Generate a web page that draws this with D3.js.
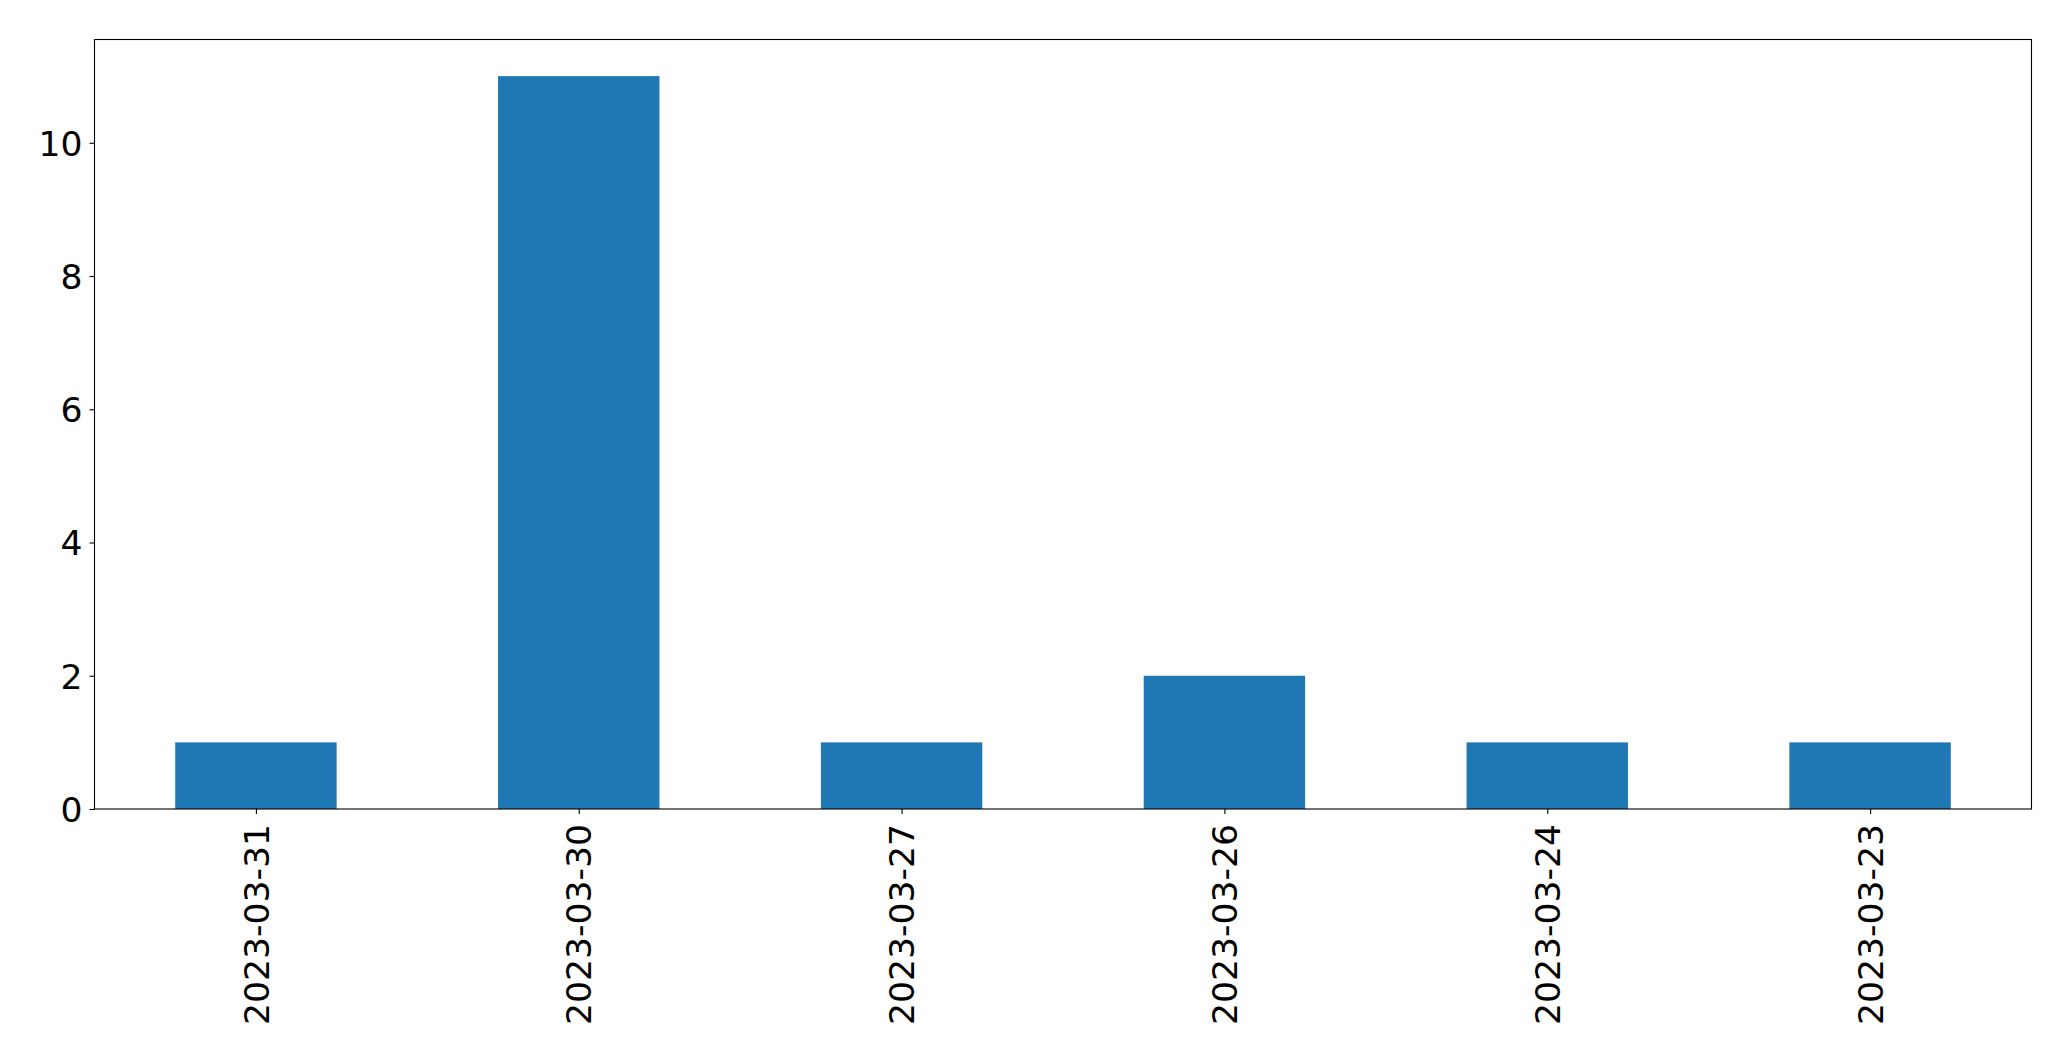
<!DOCTYPE html>
<html>
<head>
<meta charset="utf-8">
<script src="https://cdn.jsdelivr.net/npm/d3@7"></script>
<style>
  html, body { margin: 0; padding: 0; background: #fff; }
  svg { display: block; }
  text { font-family: "DejaVu Sans", sans-serif; fill: #000; }
</style>
</head>
<body>
<script>
const categories = ["2023-03-31", "2023-03-30", "2023-03-27", "2023-03-26", "2023-03-24", "2023-03-23"];
const values = [1, 11, 1, 2, 1, 1];
const yTicks = [0, 2, 4, 6, 8, 10];

(function () {
const W = 2071, H = 1061;
const mLeft = 94.5, mRight = 2031.5, mTop = 39.5, mBottom = 809;
const fontSize = 34.6;

const svg = d3.select("body").append("svg").attr("width", W).attr("height", H);

const x = d3.scaleLinear().domain([-0.5, categories.length - 0.5]).range([mLeft, mRight]);
const y = d3.scaleLinear().domain([0, d3.max(values) * 1.05]).range([mBottom, mTop]);

// bars
svg.append("g").selectAll("rect").data(values).join("rect")
  .attr("x", (d, i) => x(i - 0.25))
  .attr("width", (d, i) => x(i + 0.25) - x(i - 0.25))
  .attr("y", d => y(d))
  .attr("height", d => y(0) - y(d))
  .attr("fill", "#1f77b4");

// y axis
const yAxis = d3.axisLeft(y).tickValues(yTicks).tickSize(5).tickPadding(7).tickFormat(d3.format("d"));
const gy = svg.append("g").attr("transform", `translate(${mLeft},0)`).call(yAxis);
gy.select(".domain").remove();
gy.selectAll("line").attr("stroke", "#000").attr("stroke-width", 1.1);
gy.selectAll("text").attr("font-size", fontSize).attr("font-family", "DejaVu Sans").attr("fill", "#000").attr("dy", "0.36em");

// x axis
const xAxis = d3.axisBottom(x).tickValues(d3.range(categories.length)).tickSize(5).tickFormat(i => categories[i]);
const gx = svg.append("g").attr("transform", `translate(0,${mBottom})`).call(xAxis);
gx.select(".domain").remove();
gx.selectAll("line").attr("stroke", "#000").attr("stroke-width", 1.1);
gx.selectAll("text")
  .attr("font-size", fontSize).attr("font-family", "DejaVu Sans").attr("fill", "#000")
  .attr("text-anchor", "end")
  .attr("dy", "0.35em")
  .attr("transform", "translate(0,15) rotate(-90)")
  .attr("x", 0).attr("y", 0);

// frame
svg.append("rect")
  .attr("x", mLeft).attr("y", mTop)
  .attr("width", mRight - mLeft).attr("height", mBottom - mTop)
  .attr("fill", "none").attr("stroke", "#000").attr("stroke-width", 1.1);
})();
</script>
</body>
</html>
